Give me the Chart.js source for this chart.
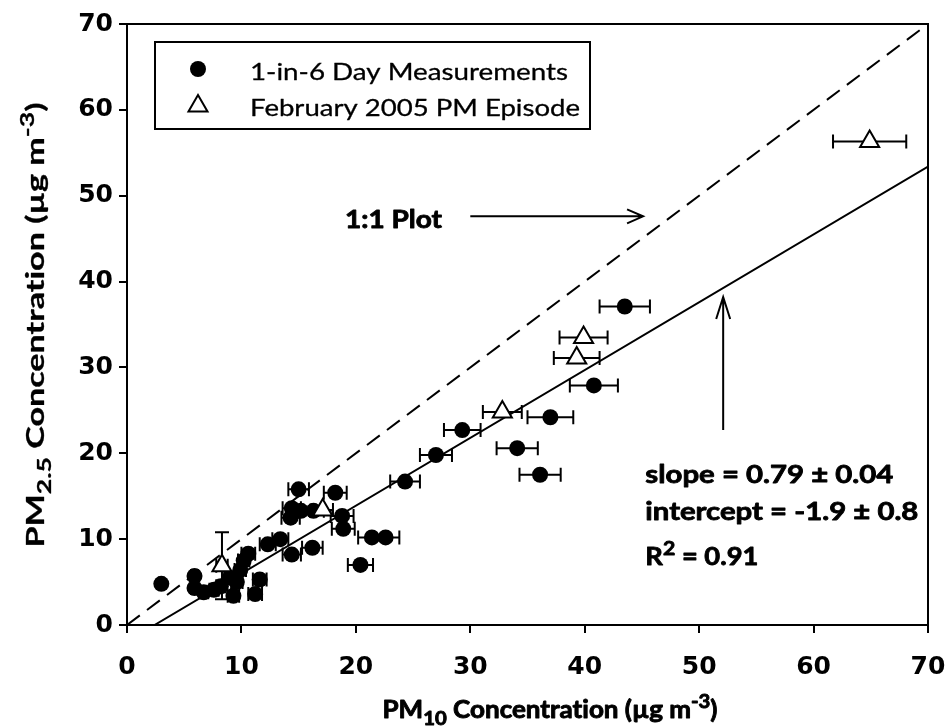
<!DOCTYPE html>
<html>
<head>
<meta charset="utf-8">
<script src="https://cdn.jsdelivr.net/npm/chart.js@4.4.0/dist/chart.umd.min.js"></script>
<style>
  html, body { margin: 0; padding: 0; background: #fff; }
</style>
</head>
<body>
<canvas id="myChart" width="946" height="726"></canvas>
<script>
// values (ug m-3)
// 1-in-6 day samples
const dayX = [3.0, 5.9, 5.9, 6.7, 7.6, 8.2, 9.0, 9.3, 9.6, 9.9, 10.2, 10.6, 11.2, 11.6, 12.3, 13.4, 14.4, 14.3, 14.4, 15.2,
  15.0, 16.3, 16.2, 18.2, 18.8, 18.9, 20.4, 21.4, 22.6, 24.3, 27.0, 29.3, 34.1, 36.1, 37.0, 40.8, 43.5];
const dayY = [4.8, 5.7, 4.3, 3.8, 4.1, 4.5, 5.5, 3.4, 5.0, 6.4, 7.5, 8.3, 3.6, 5.3, 9.4, 10.0, 8.2, 12.5, 13.6, 13.3,
  15.8, 13.3, 9.0, 15.4, 12.7, 11.2, 7.0, 10.2, 10.2, 16.7, 19.8, 22.7, 20.6, 17.5, 24.2, 27.9, 37.1];
const dayErrX = [0.2, 0.3, 0.3, 0.4, 0.4, 0.4, 0.5, 0.5, 0.5, 0.5, 0.5, 0.6, 0.6, 0.6, 0.7, 0.7, 0.8, 0.8, 0.8, 0.8,
  0.9, 0.9, 0.9, 1.0, 1.0, 1.0, 1.1, 1.2, 1.2, 1.3, 1.4, 1.6, 1.8, 1.8, 2.0, 2.1, 2.2];

// February 2005 episode
const epiX = [8.3, 17.1, 32.8, 39.3, 39.9, 64.9];
const epiY = [6.9, 13.4, 24.8, 31.1, 33.5, 56.3];
const epiErrX = [0.5, 0.9, 1.7, 2.0, 2.1, 3.2];
const epiErrY = [3.9, 0, 0, 0, 0, 0];

// regression
const fitSlope = 0.79;
const fitIntercept = -1.9;
const axisMax = 70;

const pts = (xs, ys) => xs.map((v, i) => ({ x: v, y: ys[i] }));
const fitStart = -fitIntercept / fitSlope;

function richText(ctx, parts, x, y, size, weight, targetW, align, thick) {
  // parts: [text, 0 normal | 1 sub | 2 sup]
  const fnt = s => weight + ' ' + s + 'px Lato';
  let w = 0;
  parts.forEach(p => { ctx.font = fnt(p[1] ? size * 0.78 : size); w += ctx.measureText(p[0]).width; });
  const sx = targetW ? targetW / w : 1;
  ctx.save();
  ctx.translate(x, y);
  ctx.scale(sx, 1);
  ctx.textBaseline = 'alphabetic';
  ctx.textAlign = 'left';
  ctx.lineWidth = thick || 0;
  ctx.lineJoin = 'round';
  let cx = align == 'center' ? -w / 2 : 0;
  parts.forEach(p => {
    const s = p[1] ? size * 0.78 : size;
    ctx.font = fnt(s);
    const dy = p[1] == 1 ? size * 0.28 : (p[1] == 2 ? -size * 0.42 : 0);
    ctx.fillText(p[0], cx, dy);
    if (thick) ctx.strokeText(p[0], cx, dy);
    cx += ctx.measureText(p[0]).width;
  });
  ctx.restore();
}

function arrow(ctx, x1, y1, x2, y2, len, half) {
  const a = Math.atan2(y2 - y1, x2 - x1);
  ctx.beginPath();
  ctx.moveTo(x1, y1);
  ctx.lineTo(x2, y2);
  ctx.moveTo(x2 - len * Math.cos(a) + half * Math.sin(a), y2 - len * Math.sin(a) - half * Math.cos(a));
  ctx.lineTo(x2, y2);
  ctx.lineTo(x2 - len * Math.cos(a) - half * Math.sin(a), y2 - len * Math.sin(a) + half * Math.cos(a));
  ctx.stroke();
}

// horizontal / vertical error bars
const errorBars = {
  id: 'errorBars',
  beforeDatasetsDraw(chart) {
    const ctx = chart.ctx, xs = chart.scales.x, ys = chart.scales.y;
    const cap = 7;
    ctx.save();
    ctx.strokeStyle = '#000';
    ctx.lineWidth = 2;
    chart.data.datasets.forEach(ds => {
      if (!ds.errX) return;
      ds.data.forEach((p, i) => {
        const px = xs.getPixelForValue(p.x), py = ys.getPixelForValue(p.y);
        const ex = ds.errX[i], ey = ds.errY ? ds.errY[i] : 0;
        ctx.beginPath();
        if (ex > 0) {
          const l = xs.getPixelForValue(p.x - ex), r = xs.getPixelForValue(p.x + ex);
          ctx.moveTo(l, py); ctx.lineTo(r, py);
          ctx.moveTo(l, py - cap); ctx.lineTo(l, py + cap);
          ctx.moveTo(r, py - cap); ctx.lineTo(r, py + cap);
        }
        if (ey > 0) {
          const t = ys.getPixelForValue(p.y + ey), b = ys.getPixelForValue(p.y - ey);
          ctx.moveTo(px, t); ctx.lineTo(px, b);
          ctx.moveTo(px - cap, t); ctx.lineTo(px + cap, t);
          ctx.moveTo(px - cap, b); ctx.lineTo(px + cap, b);
        }
        ctx.stroke();
      });
    });
    ctx.restore();
  }
};

// frame, legend, notes and axis titles
const decorations = {
  id: 'decorations',
  afterDraw(chart) {
    const ctx = chart.ctx, a = chart.chartArea, xs = chart.scales.x, ys = chart.scales.y;
    const X = v => xs.getPixelForValue(v), Y = v => ys.getPixelForValue(v);
    ctx.save();
    ctx.strokeStyle = '#000';
    ctx.fillStyle = '#000';
    ctx.lineWidth = 2;

    // top and right edges of the box
    ctx.beginPath();
    ctx.moveTo(a.left, a.top); ctx.lineTo(a.right, a.top); ctx.lineTo(a.right, a.bottom);
    ctx.stroke();

    // legend
    const lx = a.left + 28, ly = a.top + 18;
    ctx.fillStyle = '#fff';
    ctx.fillRect(lx, ly, 435, 87);
    ctx.fillStyle = '#000';
    ctx.strokeRect(lx, ly, 435, 87);
    ctx.beginPath();
    ctx.arc(lx + 43, ly + 27, 8, 0, Math.PI * 2);
    ctx.fill();
    const tr = 11, tx = lx + 43, ty = ly + 64;
    ctx.beginPath();
    ctx.moveTo(tx, ty - tr);
    ctx.lineTo(tx + tr * 0.866, ty + tr * 0.5);
    ctx.lineTo(tx - tr * 0.866, ty + tr * 0.5);
    ctx.closePath();
    ctx.stroke();
    richText(ctx, [['1-in-6 Day Measurements', 0]], lx + 95, ly + 38, 24, 'normal', 318, 'left', 0.3);
    richText(ctx, [['February 2005 PM Episode', 0]], lx + 95, ly + 74, 24, 'normal', 330, 'left', 0.3);

    // 1:1 note
    richText(ctx, [['1:1 Plot', 0]], X(19.05), Y(46.2), 24, 'bold', 97, 'left', 0.8);
    arrow(ctx, X(30.0), Y(47.6), X(45.1), Y(47.6), 16, 7);

    // fit note
    arrow(ctx, X(52.1), Y(22.7), X(52.1), Y(38.2), 22, 7);
    richText(ctx, [['slope = 0.79 \u00b1 0.04', 0]], X(45.3), Y(16.5), 24, 'bold', 248, 'left', 0.8);
    richText(ctx, [['intercept = -1.9 \u00b1 0.8', 0]], X(45.3), Y(12.2), 24, 'bold', 273, 'left', 0.8);
    richText(ctx, [['R', 0], ['2', 2], [' = 0.91', 0]], X(45.3), Y(7.0), 24, 'bold', 113, 'left', 0.8);

    // axis titles
    const conc = ' Concentrat\u200Cion (\u00b5g m';
    richText(ctx, [['PM', 0], ['10', 1], [conc, 0], ['-3', 2], [')', 0]],
      a.left + 423, 718, 25, 'bold', 335, 'center', 0.9);
    ctx.save();
    ctx.translate(44, 325);
    ctx.rotate(-Math.PI / 2);
    richText(ctx, [['PM', 0], ['2.5', 1], [conc, 0], ['-3', 2], [')', 0]],
      0, 0, 25, 'bold', 445, 'center', 0.3);
    ctx.restore();

    ctx.restore();
  }
};

const tickFont = { family: 'DejaVu Sans', weight: 'bold', size: 25 };

const config = {
  type: 'scatter',
  data: {
    datasets: [
      {
        label: 'February 2005 PM Episode',
        data: pts(epiX, epiY),
        errX: epiErrX,
        errY: epiErrY,
        pointStyle: 'triangle',
        pointRadius: 11,
        backgroundColor: '#fff',
        borderColor: '#000',
        borderWidth: 2,
        order: 0,
      },
      {
        label: '1-in-6 Day Measurements',
        data: pts(dayX, dayY),
        errX: dayErrX,
        pointStyle: 'circle',
        pointRadius: 8,
        backgroundColor: '#000',
        borderColor: '#000',
        borderWidth: 0,
        order: 1,
      },
      {
        type: 'line',
        label: '1:1',
        data: [{ x: 0, y: 0 }, { x: axisMax, y: axisMax }],
        borderColor: '#000',
        borderWidth: 2,
        borderDash: [16, 9],
        pointRadius: 0,
        order: 2,
      },
      {
        type: 'line',
        label: 'fit',
        data: [{ x: fitStart, y: 0 }, { x: axisMax, y: fitSlope * axisMax + fitIntercept }],
        borderColor: '#000',
        borderWidth: 2,
        pointRadius: 0,
        order: 3,
      },
    ],
  },
  options: {
    responsive: false,
    devicePixelRatio: 1,
    animation: false,
    layout: { padding: { top: 24, right: 18, left: 0, bottom: 0 } },
    plugins: { legend: { display: false }, tooltip: { enabled: false } },
    scales: {
      x: {
        type: 'linear',
        min: 0,
        max: axisMax,
        ticks: { stepSize: 10, font: tickFont, color: '#000', padding: 19, maxRotation: 0 },
        grid: { drawOnChartArea: false, tickLength: 8, color: '#000', lineWidth: 2 },
        border: { color: '#000', width: 2 },
        afterFit: s => { s.height = 101; s.paddingLeft = 0; s.paddingRight = 0; },
      },
      y: {
        type: 'linear',
        min: 0,
        max: axisMax,
        ticks: { stepSize: 10, font: tickFont, color: '#000', padding: 6 },
        grid: { drawOnChartArea: false, tickLength: 8, color: '#000', lineWidth: 2 },
        border: { color: '#000', width: 2 },
        afterFit: s => { s.width = 127; s.paddingTop = 0; s.paddingBottom = 0; },
      },
    },
  },
  plugins: [errorBars, decorations],
};

const myChart = new Chart(document.getElementById('myChart'), config);
</script>
</body>
</html>
